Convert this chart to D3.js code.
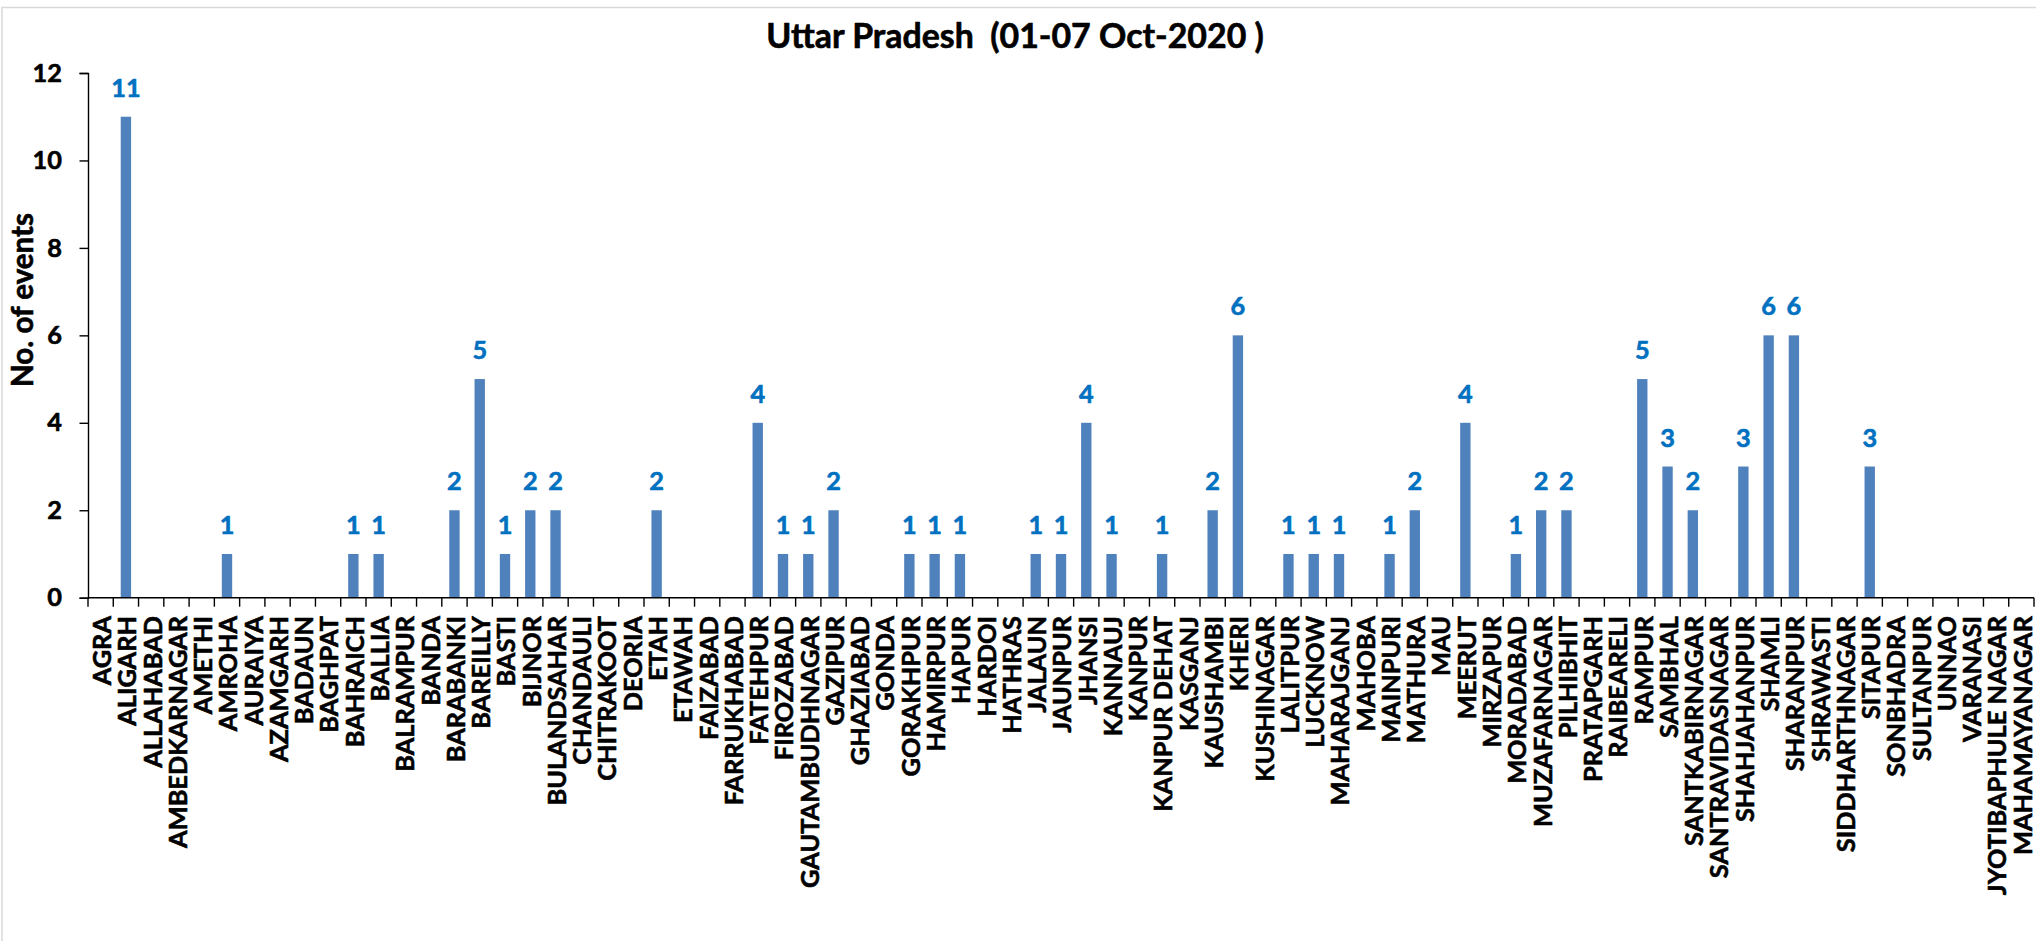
<!DOCTYPE html>
<html>
<head>
<meta charset="utf-8">
<script src="https://cdn.jsdelivr.net/npm/d3@7"></script>
<style>
  body { margin: 0; background: #fff; }
  svg text { font-family: Lato, 'Open Sans', sans-serif; font-weight: bold; stroke-width: 0.6px; stroke-linejoin: round; }
</style>
</head>
<body>
<svg id="chart" width="2036" height="941"></svg>
<script>
const districts = ['AGRA', 'ALIGARH', 'ALLAHABAD', 'AMBEDKARNAGAR', 'AMETHI', 'AMROHA', 'AURAIYA',
  'AZAMGARH', 'BADAUN', 'BAGHPAT', 'BAHRAICH', 'BALLIA', 'BALRAMPUR', 'BANDA', 'BARABANKI',
  'BAREILLY', 'BASTI', 'BIJNOR', 'BULANDSAHAR', 'CHANDAULI', 'CHITRAKOOT', 'DEORIA', 'ETAH',
  'ETAWAH', 'FAIZABAD', 'FARRUKHABAD', 'FATEHPUR', 'FIROZABAD', 'GAUTAMBUDHNAGAR', 'GAZIPUR',
  'GHAZIABAD', 'GONDA', 'GORAKHPUR', 'HAMIRPUR', 'HAPUR', 'HARDOI', 'HATHRAS', 'JALAUN',
  'JAUNPUR', 'JHANSI', 'KANNAUJ', 'KANPUR', 'KANPUR DEHAT', 'KASGANJ', 'KAUSHAMBI', 'KHERI',
  'KUSHINAGAR', 'LALITPUR', 'LUCKNOW', 'MAHARAJGANJ', 'MAHOBA', 'MAINPURI', 'MATHURA', 'MAU',
  'MEERUT', 'MIRZAPUR', 'MORADABAD', 'MUZAFARNAGAR', 'PILHIBHIT', 'PRATAPGARH', 'RAIBEARELI',
  'RAMPUR', 'SAMBHAL', 'SANTKABIRNAGAR', 'SANTRAVIDASNAGAR', 'SHAHJAHANPUR', 'SHAMLI',
  'SHARANPUR', 'SHRAWASTI', 'SIDDHARTHNAGAR', 'SITAPUR', 'SONBHADRA', 'SULTANPUR', 'UNNAO',
  'VARANASI', 'JYOTIBAPHULE NAGAR', 'MAHAMAYANAGAR']

const events = [0, 11, 0, 0, 0, 1, 0,
  0, 0, 0, 1, 1, 0, 0, 2,
  5, 1, 2, 2, 0, 0, 0, 2,
  0, 0, 0, 4, 1, 1, 2,
  0, 0, 1, 1, 1, 0, 0, 1,
  1, 4, 1, 0, 1, 0, 2, 6,
  0, 1, 1, 1, 0, 1, 2, 0,
  4, 0, 1, 2, 2, 0, 0,
  5, 3, 2, 0, 3, 6,
  6, 0, 0, 3, 0, 0, 0,
  0, 0, 0]

const yTicks = [0, 2, 4, 6, 8, 10, 12]
const chartTitle = 'Uttar Pradesh  (01-07 Oct-2020 )'
const yTitle = 'No. of events'

const barColor = '#4f81bd'
const labelColor = '#0070c0'

const svg = d3.select('#chart')

// size a font so a sample string comes out at the width seen in the picture
function fitSize(sample, target) {
  var t = svg.append('text').style('font-size', '100px').style('white-space', 'pre').text(sample)
  var w = t.node().getComputedTextLength()
  t.remove()
  return 100 * target / w
}

const titleSize = fitSize(chartTitle, 498)
const catSize = fitSize('AMBEDKARNAGAR', 232)
const axisTitleSize = fitSize(yTitle, 174)
const tickSize = catSize

svg.append('rect')
  .attr('width', 2036).attr('height', 941)
  .attr('fill', '#fff')

// chart frame (only the left and top edges are inside the picture)
svg.append('rect')
  .attr('x', 2).attr('y', 7.5)
  .attr('width', 2100).attr('height', 1000)
  .attr('fill', 'none')
  .attr('stroke', '#d9d9d9')
  .attr('stroke-width', 1.5)

const x = d3.scaleBand()
  .domain(districts)
  .range([88, 2034])
  .paddingInner(0.59)
  .paddingOuter(0.295)

const y = d3.scaleLinear()
  .domain([0, 12])
  .range([597.7, 73])

svg.append('text')
  .attr('x', 1015).attr('y', 47.5)
  .attr('text-anchor', 'middle')
  .style('font-size', titleSize + 'px')
  .style('white-space', 'pre')
  .attr('fill', '#000').attr('stroke', '#000')
  .text(chartTitle)

svg.append('g')
  .selectAll('rect')
  .data(events)
  .join('rect')
  .attr('x', (d, i) => x(districts[i]))
  .attr('y', d => y(d))
  .attr('width', x.bandwidth())
  .attr('height', d => y(0) - y(d))
  .attr('fill', barColor)

// y axis
const yAxis = svg.append('g')
  .attr('transform', 'translate(88,0)')
  .call(d3.axisLeft(y).tickValues(yTicks).tickSize(8.5).tickPadding(6))
yAxis.select('.domain').attr('stroke', '#000').attr('stroke-width', 1.4)
yAxis.selectAll('.tick line').attr('stroke', '#000').attr('stroke-width', 1.4)
yAxis.selectAll('.tick text')
  .attr('x', -26)
  .attr('fill', '#000').attr('stroke', '#000')
  .style('font-size', tickSize + 'px')
  .style('font-family', null)

// x axis: line plus ticks between categories
const step = x.step()
const xAxis = svg.append('g')
xAxis.append('line')
  .attr('x1', 88).attr('x2', 2034)
  .attr('y1', y(0)).attr('y2', y(0))
  .attr('stroke', '#000').attr('stroke-width', 1.4)
xAxis.selectAll('line.tick')
  .data(d3.range(districts.length + 1))
  .join('line')
  .attr('class', 'tick')
  .attr('x1', i => 88 + i * step)
  .attr('x2', i => 88 + i * step)
  .attr('y1', y(0)).attr('y2', y(0) + 9)
  .attr('stroke', '#000').attr('stroke-width', 1.4)

xAxis.selectAll('text')
  .data(districts)
  .join('text')
  .attr('transform', d => 'translate(' + (x(d) + x.bandwidth() / 2 + 1.5) + ',616) rotate(-90)')
  .attr('text-anchor', 'end')
  .attr('dy', '0.35em')
  .style('font-size', catSize + 'px')
  .style('white-space', 'pre')
  .attr('fill', '#000').attr('stroke', '#000')
  .text(d => d)

// value labels, zeros are left out
svg.append('g')
  .selectAll('text')
  .data(events.map((v, i) => ({ v: v, name: districts[i] })).filter(d => d.v > 0))
  .join('text')
  .attr('x', d => x(d.name) + x.bandwidth() / 2)
  .attr('y', d => y(d.v) - 20)
  .attr('text-anchor', 'middle')
  .attr('fill', labelColor).attr('stroke', labelColor)
  .style('font-size', tickSize + 'px')
  .text(d => d.v)

svg.append('text')
  .attr('transform', 'translate(33,300) rotate(-90)')
  .attr('text-anchor', 'middle')
  .style('font-size', axisTitleSize + 'px')
  .attr('fill', '#000').attr('stroke', '#000')
  .text(yTitle)
</script>
</body>
</html>
